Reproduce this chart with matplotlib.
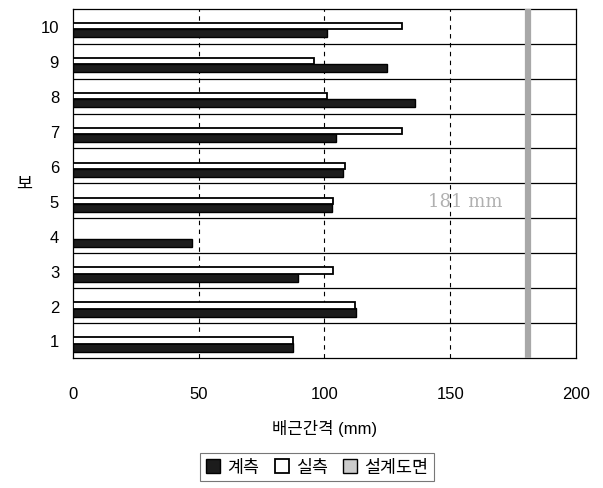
import matplotlib
matplotlib.use("Agg")
import matplotlib.pyplot as plt
from matplotlib.patches import Patch
import numpy as np

plt.rcParams['font.family'] = ['Liberation Sans', 'Noto Sans CJK KR']

categories = [1, 2, 3, 4, 5, 6, 7, 8, 9, 10]
measured_gauge = [87.5, 112.5, 89.5, 47.5, 103, 107.5, 104.5, 136, 125, 101]   # 계측
measured_actual = [87.5, 112, 103.5, 0, 103.5, 108, 131, 101, 96, 131]         # 실측
design_value = 181                                                               # 설계도면
x_ticks = [0, 50, 100, 150, 200]

fig = plt.figure(figsize=(6.03, 4.89), dpi=100)
ax = fig.add_axes([0.121, 0.266, 0.834, 0.714])

y = np.array(categories, dtype=float)
ax.barh(y - 0.2, measured_gauge, height=0.24, color='#1c1c1c', edgecolor='black',
        linewidth=1.0, zorder=3, label='계측')
ax.barh(y + 0.0, measured_actual, height=0.18, color='white', edgecolor='black',
        linewidth=1.3, zorder=3, label='실측')
ax.axvline(design_value, color='#a8a8a8', linewidth=4.5, zorder=4)

ax.text(156, 5.0, '181 mm', color='#b0b0b0', fontsize=13, family='DejaVu Serif',
        ha='center', va='center', zorder=5)

ax.set_xlim(0, 200)
ax.set_ylim(0.5, 10.5)
ax.set_xticks(x_ticks)
ax.set_yticks(categories)
ax.tick_params(length=0, labelsize=12)
ax.tick_params(axis='y', pad=10)
ax.tick_params(axis='x', pad=20)

for b in np.arange(1.5, 10.5, 1.0):
    ax.axhline(b, color='black', linewidth=0.9, zorder=1)
for v in [50, 100, 150]:
    ax.axvline(v, color='black', linewidth=0.8, linestyle=(0, (4, 4)), zorder=1)

for s in ['left', 'right', 'top', 'bottom']:
    ax.spines[s].set_linewidth(0.9)

ax.set_xlabel('배근간격 (mm)', fontsize=12, labelpad=13)
ax.set_ylabel('보', fontsize=12.5, rotation=0, labelpad=12, va='center')

handles = [Patch(facecolor='#1c1c1c', edgecolor='black', label='계측'),
           Patch(facecolor='white', edgecolor='black', linewidth=1.3, label='실측'),
           Patch(facecolor='#cccccc', edgecolor='black', label='설계도면')]
leg = fig.legend(handles=handles, loc='center', bbox_to_anchor=(0.526, 0.043), ncol=3,
                 fontsize=12.5, handlelength=0.8, handleheight=0.8, handletextpad=0.4,
                 columnspacing=0.9, frameon=True, fancybox=False, borderpad=0.35)
leg.get_frame().set_edgecolor('#555555')
leg.get_frame().set_linewidth(0.8)

fig.savefig('out.png', dpi=100)
